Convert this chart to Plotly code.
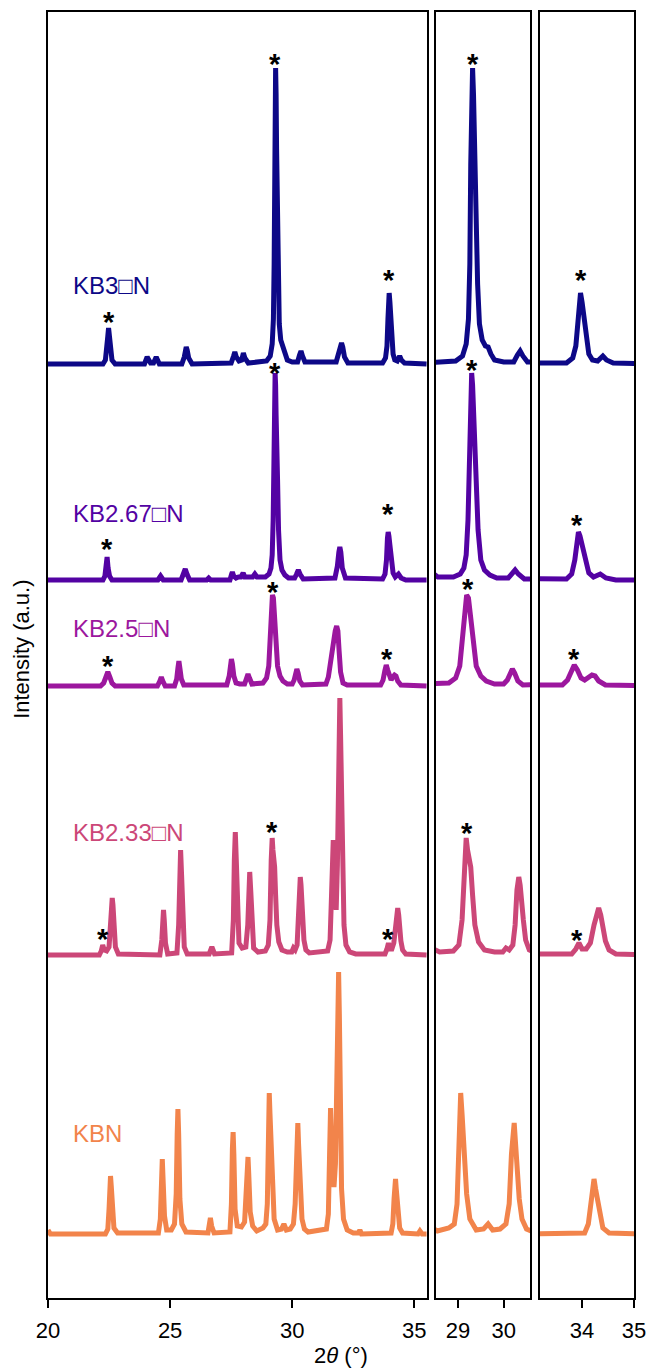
import plotly.graph_objects as go

# ---------------- data (2theta in degrees, intensity in a.u. above each baseline) ----------------
samples = ["KB3□N", "KB2.67□N", "KB2.5□N", "KB2.33□N", "KBN"]
colors = ["#0d0887", "#5302a3", "#9c179e", "#cc4778", "#f2844b"]
offsets = [934, 718, 612, 343, 64]

kb3 = [
    (20.00, 0), (22.25, 0), (22.35, 4), (22.41, 14), (22.45, 28), (22.48, 36), (22.51, 28),
    (22.55, 14), (22.62, 4), (22.75, 0), (23.95, 0), (24.06, 7), (24.20, 1), (24.32, 1),
    (24.43, 7), (24.56, 0), (25.48, 0), (25.58, 7), (25.63, 14), (25.66, 17), (25.70, 14),
    (25.76, 6), (25.90, 0), (27.50, 1), (27.60, 8), (27.65, 12), (27.71, 7), (27.82, 3),
    (27.93, 4), (28.00, 11), (28.06, 6), (28.20, 1), (28.95, 3), (29.10, 8), (29.18, 20),
    (29.23, 45), (29.26, 100), (29.28, 200), (29.30, 270), (29.32, 296), (29.34, 270),
    (29.36, 215), (29.38, 180), (29.40, 150), (29.43, 80), (29.47, 40), (29.53, 24),
    (29.60, 18), (29.66, 17), (29.72, 10), (29.80, 4), (30.00, 2), (30.22, 2), (30.30, 9),
    (30.36, 13), (30.42, 8), (30.52, 2), (31.80, 2), (31.92, 12), (31.97, 19), (32.02, 21),
    (32.07, 17), (32.14, 7), (32.28, 1), (33.70, 1), (33.82, 6), (33.88, 18), (33.92, 45),
    (33.95, 68), (33.97, 71), (34.00, 62), (34.03, 48), (34.06, 42), (34.09, 25), (34.13, 10),
    (34.20, 4), (34.30, 3), (34.40, 8), (34.47, 4), (34.60, 1), (35.50, 0)]

kb267 = [
    (20.00, 0), (22.25, 0), (22.33, 4), (22.38, 12), (22.42, 23), (22.46, 12), (22.52, 4),
    (22.62, 0), (24.50, 0), (24.61, 4), (24.72, 0), (25.45, 0), (25.55, 6), (25.62, 11),
    (25.69, 6), (25.80, 0), (26.50, 0), (26.58, 2), (26.66, 0), (27.45, 0), (27.52, 6),
    (27.55, 8), (27.60, 4), (27.70, 2), (27.80, 3), (27.90, 3), (27.99, 7), (28.06, 3),
    (28.20, 3), (28.38, 3), (28.47, 6), (28.56, 3), (28.90, 3), (29.05, 6), (29.13, 12),
    (29.18, 25), (29.22, 60), (29.25, 130), (29.28, 195), (29.30, 207), (29.32, 195),
    (29.34, 165), (29.37, 143), (29.40, 100), (29.44, 50), (29.50, 20), (29.58, 10),
    (29.70, 5), (29.85, 2), (30.10, 2), (30.18, 6), (30.25, 10), (30.32, 6), (30.45, 1),
    (31.75, 2), (31.85, 14), (31.91, 28), (31.95, 33), (31.99, 28), (32.05, 12), (32.18, 2),
    (33.70, 1), (33.80, 6), (33.86, 20), (33.90, 42), (33.93, 48), (33.96, 44), (34.00, 35),
    (34.03, 30), (34.07, 18), (34.13, 7), (34.22, 3), (34.35, 6), (34.46, 2), (34.65, 0),
    (35.50, 0)]

kb25 = [
    (20.00, 0), (22.15, 0), (22.28, 3), (22.37, 9), (22.45, 14), (22.53, 9), (22.62, 3),
    (22.75, 0), (24.48, 0), (24.58, 5), (24.64, 9), (24.70, 5), (24.80, 0), (25.18, 0),
    (25.27, 7), (25.32, 18), (25.36, 25), (25.40, 18), (25.46, 7), (25.56, 1), (27.32, 1),
    (27.42, 10), (27.47, 22), (27.51, 27), (27.55, 22), (27.61, 10), (27.70, 3), (27.85, 2),
    (28.05, 2), (28.13, 8), (28.19, 12), (28.25, 8), (28.35, 2), (28.80, 3), (28.95, 8),
    (29.04, 20), (29.10, 50), (29.15, 80), (29.19, 91), (29.23, 88), (29.28, 68), (29.33, 40),
    (29.40, 20), (29.50, 10), (29.62, 5), (29.80, 2), (30.00, 2), (30.08, 6), (30.14, 13),
    (30.19, 17), (30.24, 13), (30.31, 5), (30.42, 1), (31.38, 2), (31.48, 9), (31.54, 20),
    (31.59, 27), (31.64, 30), (31.70, 40), (31.76, 55), (31.82, 60), (31.87, 55), (31.92, 35),
    (31.98, 14), (32.08, 3), (32.25, 1), (33.62, 1), (33.72, 6), (33.79, 15), (33.85, 21),
    (33.91, 16), (33.98, 8), (34.05, 6), (34.12, 9), (34.19, 11), (34.25, 10), (34.32, 5),
    (34.45, 1), (35.50, 0)]

kb233 = [
    (20.00, 0), (22.10, 0), (22.18, 4), (22.24, 10), (22.30, 5), (22.40, 4), (22.50, 8),
    (22.56, 25), (22.60, 50), (22.63, 57), (22.66, 50), (22.70, 25), (22.76, 8), (22.88, 1),
    (24.58, 0), (24.66, 15), (24.70, 35), (24.73, 45), (24.76, 35), (24.81, 12), (24.90, 1),
    (25.28, 2), (25.35, 30), (25.39, 80), (25.43, 105), (25.47, 80), (25.51, 35), (25.58, 8),
    (25.70, 1), (26.60, 1), (26.71, 8), (26.82, 1), (27.52, 2), (27.59, 35), (27.63, 95),
    (27.67, 123), (27.71, 95), (27.75, 40), (27.82, 12), (27.95, 7), (28.10, 8), (28.18, 30),
    (28.22, 65), (28.26, 83), (28.30, 65), (28.35, 25), (28.42, 7), (28.60, 3), (28.90, 4),
    (29.02, 10), (29.09, 35), (29.14, 95), (29.18, 117), (29.21, 105), (29.25, 93),
    (29.28, 88), (29.32, 60), (29.37, 30), (29.45, 13), (29.58, 5), (29.80, 3), (29.98, 3),
    (30.05, 7), (30.12, 5), (30.20, 10), (30.25, 30), (30.29, 65), (30.33, 78), (30.36, 70),
    (30.39, 52), (30.43, 35), (30.48, 15), (30.56, 5), (30.70, 2), (31.45, 4), (31.55, 15),
    (31.61, 60), (31.65, 100), (31.68, 115), (31.71, 95), (31.75, 55), (31.80, 45),
    (31.85, 90), (31.89, 180), (31.93, 250), (31.95, 257), (31.98, 220), (32.01, 160),
    (32.04, 140), (32.07, 80), (32.12, 30), (32.20, 10), (32.35, 3), (32.60, 1), (33.80, 1),
    (33.88, 6), (33.94, 12), (34.00, 6), (34.08, 6), (34.16, 12), (34.23, 30), (34.28, 42),
    (34.32, 47), (34.36, 40), (34.40, 27), (34.45, 14), (34.52, 5), (34.65, 1), (35.50, 0)]

kbn = [
    (20.00, 4), (20.10, 0), (22.35, 0), (22.45, 5), (22.50, 25), (22.53, 48), (22.56, 58),
    (22.59, 48), (22.63, 22), (22.70, 6), (22.85, 1), (24.52, 1), (24.60, 15), (24.64, 50),
    (24.68, 75), (24.72, 50), (24.77, 18), (24.86, 4), (25.05, 4), (25.18, 10), (25.25, 40),
    (25.29, 100), (25.32, 125), (25.35, 100), (25.40, 35), (25.48, 10), (25.65, 2),
    (26.55, 1), (26.61, 10), (26.65, 16), (26.70, 8), (26.80, 1), (27.45, 2), (27.51, 30),
    (27.55, 85), (27.58, 102), (27.61, 80), (27.66, 25), (27.75, 8), (27.92, 7), (28.05, 12),
    (28.12, 40), (28.16, 68), (28.19, 77), (28.22, 60), (28.28, 22), (28.38, 8), (28.55, 3),
    (28.80, 6), (28.92, 10), (28.98, 30), (29.02, 100), (29.06, 141), (29.09, 120),
    (29.12, 95), (29.15, 80), (29.19, 40), (29.26, 15), (29.40, 4), (29.56, 5), (29.66, 10),
    (29.76, 4), (29.92, 5), (30.05, 10), (30.12, 30), (30.17, 80), (30.20, 105), (30.23, 111),
    (30.26, 90), (30.30, 62), (30.34, 35), (30.40, 15), (30.50, 5), (30.65, 2), (31.40, 5),
    (31.48, 20), (31.53, 80), (31.57, 126), (31.61, 90), (31.66, 55), (31.71, 47),
    (31.77, 70), (31.83, 170), (31.87, 245), (31.90, 262), (31.93, 220), (31.97, 120),
    (32.02, 45), (32.10, 15), (32.25, 4), (32.50, 1), (32.72, 1), (32.77, 4), (32.84, 0),
    (34.05, 1), (34.12, 10), (34.17, 35), (34.21, 52), (34.23, 55), (34.26, 45), (34.30, 33),
    (34.34, 18), (34.40, 6), (34.52, 1), (35.15, 0), (35.23, 3), (35.32, 0), (35.50, 0)]

series = [kb3, kb267, kb25, kb233, kbn]

# asterisk marks (x, y) per panel
star_left_x = [22.48, 29.31, 33.96, 22.42, 29.29, 33.93, 22.45, 29.21, 33.87, 22.24, 29.18, 33.94]
star_left_y = [983, 1241, 1025, 756, 932, 791, 639, 713, 646, 366, 473, 366]
star_mid_x = [29.32, 29.30, 29.21, 29.19]
star_mid_y = [1241, 935, 716, 472]
star_right_x = [33.98, 33.91, 33.85, 33.91]
star_right_y = [1025, 780, 646, 365]

label_y = [1013, 785, 670, 466, 165]

x_ranges = [[20, 35.52], [28.52, 30.575], [33.19, 35.0]]
x_ticks = [[20, 25, 30, 35], [29, 30], [34, 35]]
domains = [[0, 0.6468], [0.6621, 0.8225], [0.8396, 1.0]]
y_range = [0, 1286]

FONT = "Arial, Liberation Sans, sans-serif"

fig = go.Figure()
for p in range(3):
    xa = "x" if p == 0 else f"x{p+1}"
    ya = "y" if p == 0 else f"y{p+1}"
    for i in range(len(samples)):
        xs = [pt[0] for pt in series[i]]
        ys = [offsets[i] + pt[1] for pt in series[i]]
        fig.add_trace(go.Scatter(
            x=xs, y=ys, mode="lines",
            line=dict(color=colors[i], width=5, shape="linear"),
            xaxis=xa, yaxis=ya, showlegend=False, hoverinfo="skip"))

layout = dict(
    template="none",
    width=651, height=1369, autosize=False,
    margin=dict(l=48, r=17, t=12, b=71, pad=0),
    plot_bgcolor="white", paper_bgcolor="white",
    font=dict(family=FONT, color="black"),
    showlegend=False,
)
for p in range(3):
    xk = "xaxis" if p == 0 else f"xaxis{p+1}"
    yk = "yaxis" if p == 0 else f"yaxis{p+1}"
    ya = "y" if p == 0 else f"y{p+1}"
    xa = "x" if p == 0 else f"x{p+1}"
    layout[xk] = dict(domain=domains[p], range=x_ranges[p], anchor=ya, automargin=False,
                      tickvals=x_ticks[p], ticks="outside", ticklen=8, tickwidth=1.5,
                      tickcolor="black", showline=True, linecolor="black", linewidth=1.5,
                      mirror=True, showgrid=False, zeroline=False,
                      tickfont=dict(size=22, family=FONT, color="black"), ticklabelstandoff=4)
    layout[yk] = dict(domain=[0, 1], range=y_range, anchor=xa, automargin=False,
                      showticklabels=False, ticks="", showline=True, linecolor="black",
                      linewidth=1.5, mirror=True, showgrid=False, zeroline=False)
fig.update_layout(**layout)

ann = []
def star(x, y, xr, yr):
    ann.append(dict(x=x, y=y, xref=xr, yref=yr, text="<b>*</b>", showarrow=False,
                    font=dict(size=29, color="black", family=FONT),
                    xanchor="center", yanchor="middle", yshift=-7))
for x, y in zip(star_left_x, star_left_y):
    star(x, y, "x", "y")
for x, y in zip(star_mid_x, star_mid_y):
    star(x, y, "x2", "y2")
for x, y in zip(star_right_x, star_right_y):
    star(x, y, "x3", "y3")

for i, s in enumerate(samples):
    ann.append(dict(x=20.96, y=label_y[i], xref="x", yref="y", text=s, showarrow=False,
                    font=dict(size=24, color=colors[i], family=FONT),
                    xanchor="left", yanchor="middle"))

ann.append(dict(x=0.5, y=0, xref="paper", yref="paper", text="2<i>θ</i> (°)",
                showarrow=False, font=dict(size=22, family=FONT),
                xanchor="center", yanchor="middle", yshift=-57))
ann.append(dict(x=0, y=0.504, xref="paper", yref="paper", text="Intensity (a.u.)",
                showarrow=False, textangle=-90, font=dict(size=22, family=FONT),
                xanchor="center", yanchor="middle", xshift=-26))
fig.update_layout(annotations=ann)

fig.write_html("out.html")
